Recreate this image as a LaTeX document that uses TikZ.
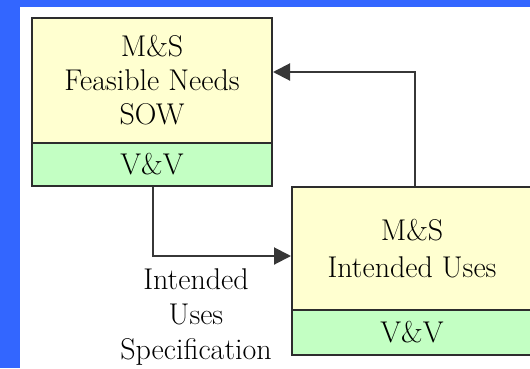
\documentclass[tikz,border=0pt]{standalone}
\usetikzlibrary{arrows.meta}
\definecolor{bgblue}{RGB}{51,102,255}
\definecolor{boxyellow}{RGB}{255,255,208}
\definecolor{boxgreen}{RGB}{195,255,195}
\definecolor{edgecol}{RGB}{45,45,45}
\definecolor{conncol}{RGB}{55,55,55}
\begin{document}
\begin{tikzpicture}[x=1pt,y=-1pt,
  part/.style={draw=edgecol, line width=2pt, inner sep=0pt, anchor=north west, align=center, font=\fontsize{30}{34}\selectfont},
  conn/.style={draw=conncol, line width=2pt, -{Triangle[length=17pt,width=17pt]}},
  lbl/.style={align=center, font=\fontsize{30}{35}\selectfont}]
\useasboundingbox (0,0) rectangle (530,368);
\fill[bgblue] (0,0) rectangle (530,368);
\fill[white] (20,7) rectangle (530,368);
\begin{scope}
\clip (0,0) rectangle (530,368);
\node[part, fill=boxyellow, minimum width=240pt, minimum height=125pt] (a) at (31,17) {M\&S\\Feasible Needs\\SOW};
\node[part, fill=boxgreen, minimum width=240pt, minimum height=43pt] (av) at (31,142) {V\&V};
\node[part, fill=boxyellow, minimum width=240pt, minimum height=123pt] (b) at (291,186) {M\&S\\[3pt]Intended Uses};
\node[part, fill=boxgreen, minimum width=240pt, minimum height=45pt] (bv) at (291,309) {V\&V};
\coordinate (c1) at (153,256);
\coordinate (c2) at (415,72);
\draw[conn] (av.south -| c1) |- (b.west |- c1);
\draw[conn] (b.north -| c2) |- (a.east |- c2);
\node[lbl] (lab) at (196,317) {Intended\\Uses\\Specification};
\end{scope}
\end{tikzpicture}
\end{document}
